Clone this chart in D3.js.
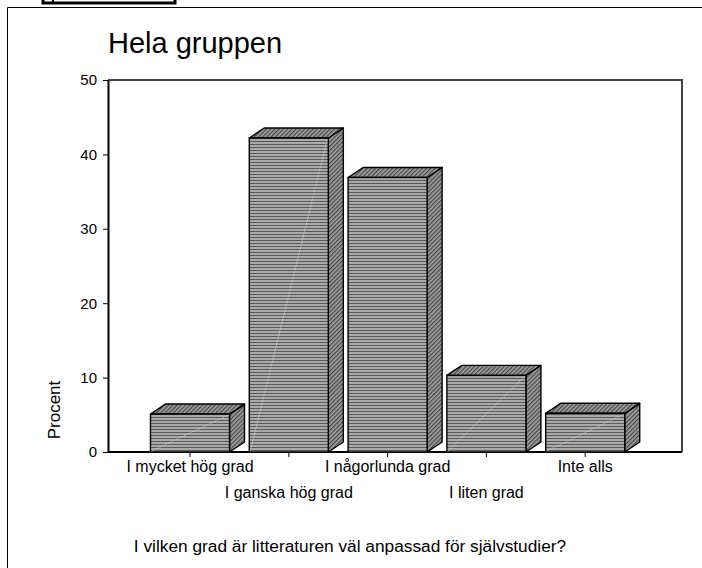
<!DOCTYPE html>
<html>
<head>
<meta charset="utf-8">
<title>Hela gruppen</title>
<script src="https://d3js.org/d3.v7.min.js"></script>
<style>
  body { margin: 0; background: #fff; }
  text { font-family: "Liberation Sans", Arial, sans-serif; fill: #000; }
</style>
</head>
<body>
<script>
// data
var categories = ["I mycket hög grad", "I ganska hög grad", "I någorlunda grad", "I liten grad", "Inte alls"];
var values = [5.1, 42.2, 36.9, 10.3, 5.2];
var yTicks = [0, 10, 20, 30, 40, 50];
var title = "Hela gruppen";
var xTitle = "I vilken grad är litteraturen väl anpassad för självstudier?";
var yTitle = "Procent";

var W = 702, H = 568;
var pLeft = 108, pRight = 682, pTop = 80, pBottom = 452;
var dx = 15, dy = -10; // 3d depth

var svg = d3.select("body").append("svg")
    .attr("width", W)
    .attr("height", H);

// patterns
var defs = svg.append("defs");
var stripes = defs.append("pattern")
    .attr("id", "stripes")
    .attr("patternUnits", "userSpaceOnUse")
    .attr("width", 6).attr("height", 3);
stripes.append("rect").attr("width", 6).attr("height", 3).attr("fill", "#a9a9a9");
stripes.append("rect").attr("y", 0).attr("width", 6).attr("height", 1).attr("fill", "#5a5a5a");

var hatch = defs.append("pattern")
    .attr("id", "hatch")
    .attr("patternUnits", "userSpaceOnUse")
    .attr("width", 3).attr("height", 3)
    .attr("patternTransform", "rotate(45)");
hatch.append("rect").attr("width", 3).attr("height", 3).attr("fill", "#a0a0a0");
hatch.append("rect").attr("width", 1.3).attr("height", 3).attr("fill", "#4a4a4a");

// outer frame + the little box on top
svg.append("path")
    .attr("d", "M7.5," + H + "V7.5H" + W)
    .attr("fill", "none").attr("stroke", "#000").attr("stroke-width", 1);
svg.append("rect")
    .attr("x", 43).attr("y", -10).attr("width", 132).attr("height", 13)
    .attr("fill", "none").attr("stroke", "#000").attr("stroke-width", 3);
svg.append("line")
    .attr("x1", 53).attr("x2", 53).attr("y1", 0).attr("y2", 3)
    .attr("stroke", "#000").attr("stroke-width", 2);

// scales
var x = d3.scaleBand()
    .domain(categories)
    .range([140.6, 634.6])
    .paddingInner(0.2)
    .paddingOuter(0.1);
var y = d3.scaleLinear().domain([0, 50]).range([pBottom, pTop]);

// plot frame top/right
svg.append("path")
    .attr("d", "M" + pLeft + "," + pTop + "H" + pRight + "V" + pBottom)
    .attr("fill", "none").attr("stroke", "#444").attr("stroke-width", 2);

// y axis
var yAxis = svg.append("g")
    .attr("transform", "translate(" + pLeft + ",0)")
    .call(d3.axisLeft(y).tickValues(yTicks).tickSize(5).tickPadding(6).tickSizeOuter(0));
yAxis.select(".domain").attr("stroke", "#000").attr("stroke-width", 2);
yAxis.selectAll("text").style("font-size", "15px").style("font-family", "Liberation Sans, Arial, sans-serif");

// x axis
var xAxis = svg.append("g")
    .attr("transform", "translate(0," + pBottom + ")")
    .call(d3.axisBottom(x).tickSize(5).tickSizeOuter(0));
xAxis.select(".domain").attr("d", "M" + pLeft + ",0H" + pRight).attr("stroke", "#000").attr("stroke-width", 2);
xAxis.selectAll("text")
    .style("font-size", "16px")
    .style("font-family", "Liberation Sans, Arial, sans-serif")
    .attr("y", function(d, i) { return i % 2 ? 35 : 9; });

// bars
var bars = svg.append("g").selectAll("g")
    .data(values)
    .enter().append("g");

bars.each(function(d, i) {
    var g = d3.select(this);
    var x0 = x(categories[i]), x1 = x0 + x.bandwidth();
    var yt = y(d), yb = y(0);
    // side face
    g.append("path")
        .attr("d", "M" + x1 + "," + yb + "L" + (x1 + dx) + "," + (yb + dy) +
              "L" + (x1 + dx) + "," + (yt + dy) + "L" + x1 + "," + yt + "Z")
        .attr("fill", "url(#hatch)").attr("stroke", "#000").attr("stroke-width", 1.4)
        .attr("stroke-linejoin", "round");
    // top face
    g.append("path")
        .attr("d", "M" + x0 + "," + yt + "L" + (x0 + dx) + "," + (yt + dy) +
              "L" + (x1 + dx) + "," + (yt + dy) + "L" + x1 + "," + yt + "Z")
        .attr("fill", "url(#hatch)").attr("stroke", "#000").attr("stroke-width", 1.4)
        .attr("stroke-linejoin", "round");
    // front face
    g.append("rect")
        .attr("x", x0).attr("y", yt)
        .attr("width", x.bandwidth()).attr("height", yb - yt)
        .attr("fill", "url(#stripes)").attr("stroke", "#000").attr("stroke-width", 1.4);
    // faint diagonal
    if (i !== 2) {
        g.append("line")
            .attr("x1", x0 + 1).attr("y1", yb - 1)
            .attr("x2", x1 - 1).attr("y2", yt + 1)
            .attr("stroke", "#d8d8d8").attr("stroke-width", 0.8)
            .attr("stroke-dasharray", "2,1").attr("opacity", 0.8);
    }
});

// titles
svg.append("text")
    .attr("x", 108).attr("y", 53)
    .style("font-size", "29px")
    .text(title);

svg.append("text")
    .attr("transform", "translate(60,410) rotate(-90)")
    .attr("text-anchor", "middle")
    .style("font-size", "17px")
    .text(yTitle);

svg.append("text")
    .attr("x", 350).attr("y", 552)
    .attr("text-anchor", "middle")
    .style("font-size", "17.3px")
    .text(xTitle);
</script>
</body>
</html>
